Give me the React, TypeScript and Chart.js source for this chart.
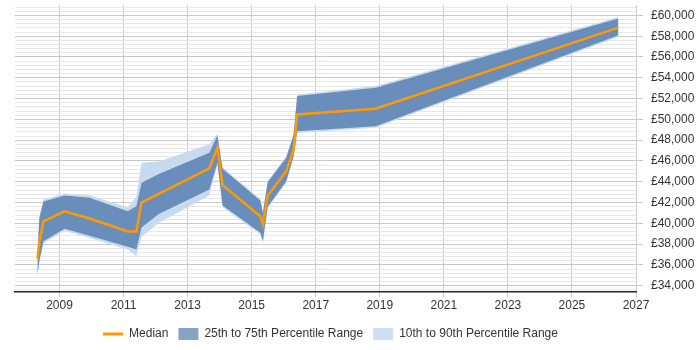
import React, { useEffect, useRef } from 'react';
import { Chart, registerables } from 'chart.js';
Chart.register(...registerables);

const years = [2008.31, 2008.37, 2008.5, 2009.16, 2009.94, 2011.13, 2011.4, 2011.56, 2012.1, 2013.68, 2013.93, 2014.09, 2015.27, 2015.35, 2015.5, 2016.08, 2016.31, 2016.42, 2018.87, 2026.45];
const median = [36620, 38200, 40200, 41150, 40470, 39220, 39220, 42000, 42840, 45280, 47270, 43680, 40690, 39900, 42680, 45020, 47110, 50480, 51020, 58820];
const p75 = [37000, 40500, 42100, 42680, 42460, 41170, 41650, 43900, 44750, 46790, 48460, 45250, 42200, 41000, 43960, 46310, 48550, 52240, 53040, 59710];
const p25 = [35000, 36400, 38290, 39480, 38800, 37750, 37490, 39600, 40900, 43260, 45830, 41720, 39100, 38300, 41600, 44060, 46470, 48870, 49350, 58100];
const p90 = [37200, 40700, 42300, 42880, 42700, 41530, 42620, 45830, 45950, 47600, 48650, 45400, 42350, 41150, 44100, 46450, 48700, 52400, 53200, 59850];
const p10 = [34800, 36200, 38100, 39300, 38600, 37490, 36840, 38700, 40060, 42680, 45600, 41550, 38950, 38100, 41450, 43900, 46300, 48700, 49200, 57950];

const xTicks = [2009, 2011, 2013, 2015, 2017, 2019, 2021, 2023, 2025, 2027];
const yMin = 33400;
const yMax = 61000;
const yStep = 400;
const yMajor = 2000;

const ORANGE = '#ff9900';
const DARK = '#6a8ebb';
const LIGHT = '#c8dbee';
const LEG_DARK = '#86a3c7';
const LEG_LIGHT = '#cddff0';
const TEXT = '#333333';

const legendShift = {
  id: 'legendShift',
  afterLayout(chart: any) {
    const lg = chart.legend;
    if (lg) { lg.left += 5; lg.right += 5; }
  },
};

export default function App() {
  const ref = useRef<HTMLCanvasElement>(null);
  useEffect(() => {
    if (!ref.current) return;
    Chart.defaults.font.family = '"Liberation Sans", Arial, sans-serif';
    Chart.defaults.font.size = 12;
    const pts = (arr: number[]) => years.map((x, i) => ({ x, y: arr[i] }));
    const band = { pointRadius: 0, borderWidth: 0, borderColor: 'rgba(0,0,0,0)', tension: 0 };
    const chart = new Chart(ref.current, {
      type: 'line',
      data: {
        datasets: [
          { label: 'Median', data: pts(median), borderColor: ORANGE, backgroundColor: ORANGE, borderWidth: 2.5, pointRadius: 0, fill: false, tension: 0 },
          { label: '25th to 75th Percentile Range', data: pts(p75), backgroundColor: DARK, fill: '+1', ...band },
          { label: 'p25', data: pts(p25), fill: false, ...band },
          { label: '10th to 90th Percentile Range', data: pts(p90), backgroundColor: LIGHT, fill: '+1', ...band },
          { label: 'p10', data: pts(p10), fill: false, ...band },
        ] as any,
      },
      plugins: [legendShift],
      options: {
        animation: false,
        responsive: true,
        maintainAspectRatio: false,
        layout: { padding: { left: 15, right: 6, top: 5, bottom: 0 } },
        plugins: {
          tooltip: { enabled: false },
          legend: {
            position: 'bottom',
            fullSize: false,
            labels: {
              usePointStyle: true,
              pointStyleWidth: 20,
              boxHeight: 12,
              padding: 10,
              color: TEXT,
              font: { size: 12 },
              generateLabels: () => [
                { text: 'Median', datasetIndex: 0, pointStyle: 'line', strokeStyle: ORANGE, fillStyle: ORANGE, lineWidth: 3, hidden: false, fontColor: TEXT } as any,
                { text: '25th to 75th Percentile Range', datasetIndex: 1, pointStyle: 'rect', strokeStyle: LEG_DARK, fillStyle: LEG_DARK, lineWidth: 0, hidden: false, fontColor: TEXT } as any,
                { text: '10th to 90th Percentile Range', datasetIndex: 3, pointStyle: 'rect', strokeStyle: LEG_LIGHT, fillStyle: LEG_LIGHT, lineWidth: 0, hidden: false, fontColor: TEXT } as any,
              ],
            },
          },
        },
        scales: {
          x: {
            type: 'linear',
            min: 2007.61,
            max: 2027,
            afterBuildTicks: (s: any) => { s.ticks = xTicks.map((v) => ({ value: v })); },
            afterFit: (s: any) => { s.height = 26; s.paddingLeft = 0; s.paddingRight = 0; },
            ticks: { color: TEXT, padding: 1, maxRotation: 0, autoSkip: false, callback: (v: any) => String(v) },
            grid: { color: '#cccccc', tickLength: 5, tickColor: '#cccccc' },
            border: { color: '#222222', width: 1.5 },
          },
          y: {
            type: 'linear',
            position: 'right',
            min: yMin,
            max: yMax,
            afterBuildTicks: (s: any) => {
              const t: any[] = [];
              for (let v = Math.ceil(yMin / yStep) * yStep; v <= yMax; v += yStep) t.push({ value: v });
              s.ticks = t;
            },
            afterFit: (s: any) => { s.width = 58; s.paddingTop = 0; s.paddingBottom = 0; },
            ticks: {
              color: TEXT,
              padding: 8,
              autoSkip: false,
              callback: (v: any) => (v % yMajor === 0 ? '£' + Number(v).toLocaleString('en-GB') : ''),
            },
            grid: {
              color: (c: any) => (c.tick && c.tick.value % yMajor === 0 ? '#c8c8c8' : '#e8e8e8'),
              tickColor: (c: any) => (c.tick && c.tick.value % yMajor === 0 ? '#c8c8c8' : 'rgba(0,0,0,0)'),
              tickLength: 7,
            },
            border: { display: false },
          },
        },
      },
    });
    return () => chart.destroy();
  }, []);
  return (
    <div style={{ position: 'fixed', left: 0, top: 0, width: 700, height: 350, background: '#fff' }}>
      <canvas ref={ref} />
    </div>
  );
}
